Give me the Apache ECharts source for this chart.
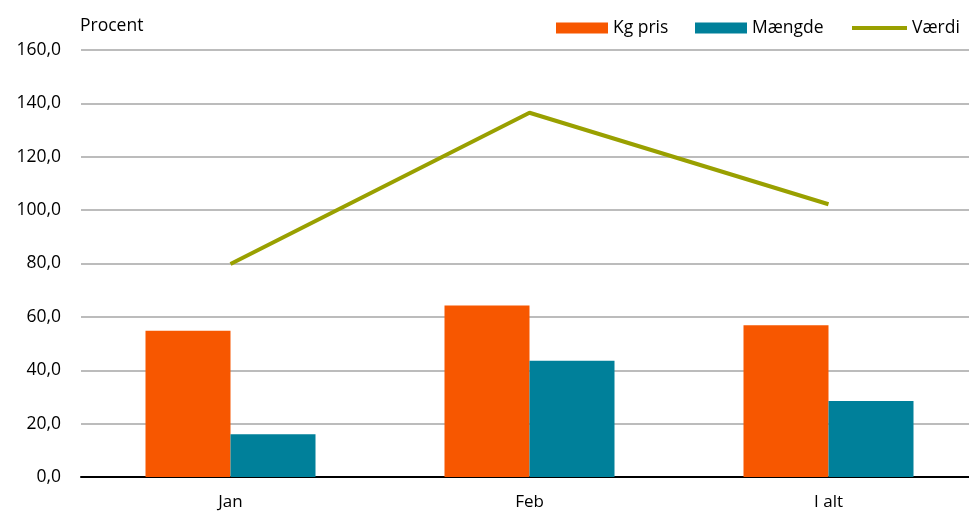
<!DOCTYPE html>
<html><head><meta charset="utf-8">
<script src="https://cdn.jsdelivr.net/npm/echarts@6/dist/echarts.min.js"></script>
<style>html,body{margin:0;padding:0;background:#fff}#c{width:969px;height:515px}</style>
</head><body><div id="c"></div>
<script>
const categories = ['Jan', 'Feb', 'I alt'];
const kgPris = [54.8, 64.3, 56.9];
const maengde = [16.0, 43.6, 28.5];
const vaerdi = [79.8, 136.5, 102.2];
const yTicks = [0, 20, 40, 60, 80, 100, 120, 140, 160];

const font = 'Open Sans';
const legTxt = { fontFamily: font, fontSize: 17.5, color: '#000' };
function leg(name, left, icon, w) {
  return { left: left, top: 19, padding: 0, itemWidth: w, itemHeight: 11, symbolKeepAspect: true,
    textStyle: legTxt, data: [{ name: name, icon: icon }] };
}
const chart = echarts.init(document.getElementById('c'));
chart.setOption({
  animation: false,
  textStyle: { fontFamily: font },
  title: { text: 'Procent', left: 75, top: 12, textStyle: { fontFamily: font, fontSize: 17.5, fontWeight: 'normal', color: '#000' } },
  legend: [
    leg('Kg pris', 556, 'rect', 52),
    leg('Mængde', 695, 'rect', 52),
    leg('Værdi', 852, 'path://M0,0h55v4h-55z', 55)
  ],
  grid: { left: 81, top: 50, width: 897, bottom: 38, outerBoundsMode: 'none', containLabel: false },
  xAxis: {
    type: 'category', data: categories,
    axisLine: { lineStyle: { color: '#000', width: 2 } },
    axisTick: { show: false },
    axisLabel: { color: '#000', fontSize: 17, fontFamily: font, margin: 17 }
  },
  yAxis: {
    type: 'value', min: yTicks[0], max: yTicks[yTicks.length - 1], interval: 20,
    axisLine: { show: false }, axisTick: { show: false },
    splitLine: { lineStyle: { color: '#A6A6A6', width: 1.5 } },
    axisLabel: { color: '#000', fontSize: 17.5, fontFamily: font, margin: 20,
      formatter: v => v.toFixed(1).replace('.', ',') }
  },
  series: [
    { name: 'Kg pris', type: 'bar', data: kgPris, barWidth: 85, barGap: '0%',
      itemStyle: { color: '#F75700' } },
    { name: 'Mængde', type: 'bar', data: maengde, barWidth: 85, barGap: '0%',
      itemStyle: { color: '#00809A' } },
    { name: 'Værdi', type: 'line', data: vaerdi, symbol: 'none',
      lineStyle: { color: '#99A000', width: 4 }, itemStyle: { color: '#99A000' } }
  ]
});
</script></body></html>
